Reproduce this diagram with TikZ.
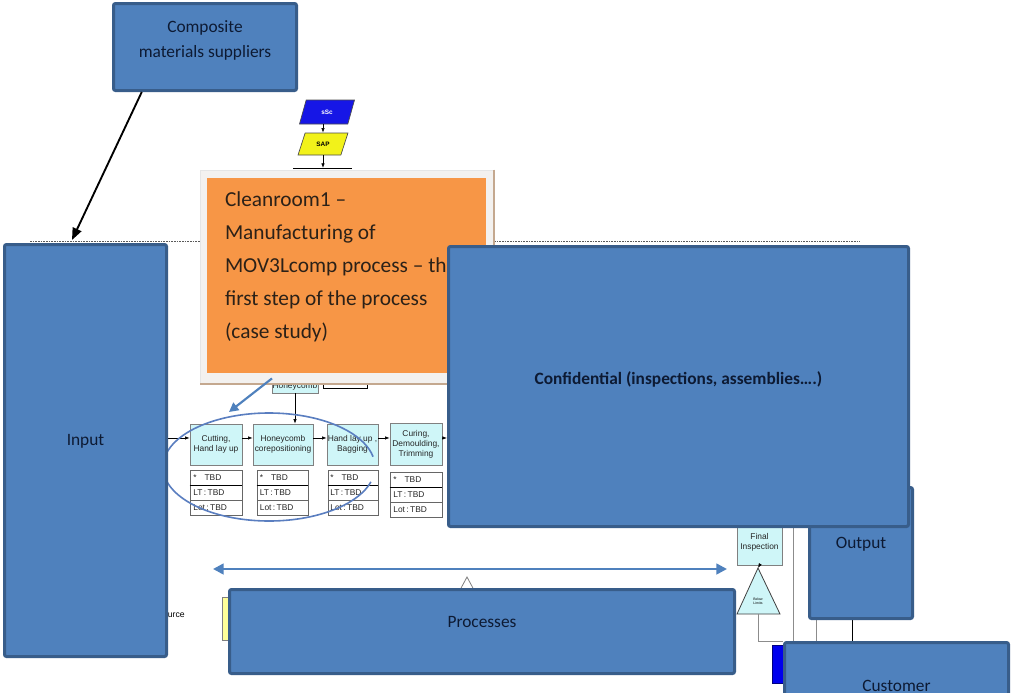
\documentclass[tikz,border=0pt]{standalone}
\usepackage{fontspec}
\setmainfont{Carlito}
\newfontfamily\arialf{Liberation Sans}
\usetikzlibrary{arrows.meta,shapes.geometric,calc}
\pgfdeclarelayer{paper}
\pgfdeclarelayer{under}
\pgfdeclarelayer{callout}
\pgfsetlayers{paper,under,callout,main}

\definecolor{boxblue}{HTML}{4F81BD}
\definecolor{boxedge}{HTML}{385D8A}
\definecolor{labelink}{HTML}{0D1A33}
\definecolor{orangefill}{HTML}{F79646}
\definecolor{orangeink}{HTML}{2B2118}
\definecolor{framefill}{HTML}{F3F1EF}
\definecolor{frameedge}{HTML}{C4A88F}
\definecolor{stepfill}{HTML}{CFF6F8}
\definecolor{stepedge}{HTML}{808080}
\definecolor{sscblue}{HTML}{1616E6}
\definecolor{sapyellow}{HTML}{F2F21A}
\definecolor{pureblue}{HTML}{0000EE}
\definecolor{ovalblue}{HTML}{5A7EC0}
\definecolor{srcyellow}{HTML}{FFFF99}

\begin{document}
\begin{tikzpicture}[x=0.75pt,y=-0.75pt,
  bluebox/.style={rectangle, rounded corners=1.5pt, fill=boxblue, draw=boxedge,
    line width=2.25pt, inner sep=0pt},
  boxlabel/.style={text=labelink, font=\fontsize{13pt}{18.75pt}\selectfont, align=center},
  stepbox/.style={rectangle, fill=stepfill, draw=stepedge, line width=0.5pt,
    inner sep=0pt, minimum height=30.75pt, align=center,
    font=\arialf\fontsize{6.3pt}{7.5pt}\selectfont, text=black!85},
  datarow/.style={rectangle, draw=black!60, line width=0.4pt, inner sep=0pt,
    minimum height=11.25pt, text width=34pt, align=left,
    font=\arialf\fontsize{6.3pt}{7pt}\selectfont, text=black!85},
  para/.style={trapezium, trapezium stretches=true, draw=black!70, line width=0.5pt,
    inner sep=0pt, font=\arialf\bfseries\fontsize{4.8pt}{5pt}\selectfont},
  flow/.style={draw=black, line width=0.5pt, -{Latex[length=3.5pt,width=2.6pt]}},
  gline/.style={draw=black!45, line width=0.75pt},
  boundary/.style={draw=black!65, line width=0.6pt, dash pattern=on 1.2pt off 0.8pt},
  bluearrow/.style={draw=boxblue, line width=1.6pt, -{Triangle[length=7pt,width=7pt]}},
  spanarrow/.style={draw=boxblue, line width=1.9pt,
    {Triangle[length=8pt,width=8pt]}-{Triangle[length=8pt,width=8pt]}},
  feed/.style={draw=black, line width=1.4pt, -{Triangle[length=9pt,width=7pt]}},
  tinytext/.style={font=\arialf\fontsize{2.6pt}{3pt}\selectfont, align=center, inner sep=0pt}
]
\begin{pgfonlayer}{paper}
  \fill[white] (0,0) rectangle (1011,693);
\end{pgfonlayer}
\useasboundingbox (0,0) rectangle (1011,693);

% ---------- top-level blocks ----------
\node[bluebox, minimum width=77.25pt, minimum height=98.25pt,
  label={[boxlabel, yshift=6.75pt]center:Output}] (out) at (861,553) {};
\node[bluebox, minimum width=345pt, minimum height=210pt,
  label={[boxlabel, font=\bfseries\fontsize{13pt}{18.75pt}\selectfont, yshift=5.6pt]center:Confidential (inspections, assemblies….)}] (conf) at (678.5,386.5) {};
\node[bluebox, minimum width=121.5pt, minimum height=309pt,
  label={[boxlabel, yshift=7.1pt]center:Input}] (inp) at (85.5,450.5) {};
\node[bluebox, minimum width=137.25pt, minimum height=65.25pt,
  label={[boxlabel, yshift=5.25pt]center:Composite\\materials suppliers}] (sup) at (205,47) {};
\node[bluebox, minimum width=378.75pt, minimum height=63pt,
  label={[boxlabel, yshift=7.1pt]center:Processes}] (proc) at (482,631.5) {};
\node[bluebox, minimum width=168pt, minimum height=63.75pt,
  label={[boxlabel, yshift=-1pt]center:Customer}] (cust) at (896.5,685) {};

% supplier feed onto the boundary line
\coordinate (dashL) at (30,241);
\coordinate (dashR) at (860,241);
\coordinate (feedEnd) at (72,240);
\draw[feed] ($(sup.south west)!0.16!(sup.south east)$) -- (feedEnd);

% span of the process chain
\coordinate (spanL) at (213,569);
\coordinate (spanR) at (727,569);
\draw[spanarrow] (spanL) -- (spanR);

% ---------- value stream underneath ----------
\begin{pgfonlayer}{under}
  \draw[boundary] (dashL) -- (dashR);

  % scheduling
  \node[para, fill=sscblue, text=white, trapezium left angle=68, trapezium right angle=112,
    minimum width=41.25pt, minimum height=18pt] (ssc) at (327,112) {sSc};
  \node[para, fill=sapyellow, text=black, trapezium left angle=60, trapezium right angle=120,
    minimum width=37.5pt, minimum height=16.5pt] (sap) at (323,144) {SAP};
  \draw[flow] (sap.north |- ssc.south) -- (sap.north);
  \coordinate (barL) at (293,168);
  \coordinate (barR) at (352,168);
  \draw[line width=0.6pt] (barL) -- (barR);
  \draw[flow] (sap.south) -- (sap.south |- barL);

  % process steps
  \node[stepbox, minimum width=39pt] (p1) at (216,444.5) {Cutting,\\Hand lay up};
  \node[stepbox, minimum width=45pt] (p2) at (283,444.5) {Honeycomb\\corepositioning};
  \node[stepbox, minimum width=38.25pt] (p3) at (352.5,444.5) {Hand lay up ,\\Bagging};
  \node[stepbox, minimum width=39pt, minimum height=31.5pt] (p4) at (416,444) {Curing,\\Demoulding,\\Trimming};

  \node[stepbox, minimum width=34.5pt, minimum height=10.5pt] (hc) at (295,386) {Honeycomb};
  \node[draw=black, line width=0.6pt, minimum width=33pt, minimum height=13.5pt, inner sep=0pt] (inv) at (345,379) {};
  \draw[flow] (hc.south) -- (hc.south |- p2.north);

  \coordinate (rowA) at ([yshift=4.9pt]p1.west);
  \draw[flow] (rowA -| inp.east) -- (rowA);
  \draw[flow] (rowA -| p1.east) -- (rowA -| p2.west);
  \draw[flow] (rowA -| p2.east) -- (rowA -| p3.west);
  \draw[flow] (rowA -| p3.east) -- (rowA -| p4.west);
  \draw[flow] (rowA -| p4.east) -- (rowA -| conf.west);

  % data boxes under each step
  \foreach \c/\x/\w/\y in {1/216/39/477.5, 2/282.5/38.25/477.5, 3/353/37.5/477.5, 4/416/39/479.5}{
    \node[datarow, minimum width=\w pt] (d\c-1) at (\x,\y) {*\hspace{6pt}TBD};
    \node[datarow, minimum width=\w pt] (d\c-2) at (\x,\y+15.5) {LT\,:\,TBD};
    \node[datarow, minimum width=\w pt] (d\c-3) at (\x,\y+30.5) {Lot\,:\,TBD};
    \draw[line width=1.1pt] (d\c-1.south west) -- (d\c-1.south east);
  }

  % lasso round the first steps
  \coordinate (ovalc) at (269,467);
  \draw[ovalblue, line width=1.2pt] ([shift={(-16:79.5pt and 40.5pt)}]ovalc)
    arc[start angle=-16, end angle=-349, x radius=79.5pt, y radius=40.5pt];

  % source at bottom left
  \node[font=\arialf\fontsize{6.5pt}{7pt}\selectfont, anchor=east, inner sep=0pt] (src) at (185,615) {Source};
  \node[draw=black!50, fill=srcyellow, line width=0.5pt, minimum width=9pt, minimum height=32.25pt, inner sep=0pt] (ybox) at (228,618.5) {};
  \draw[black!50, line width=0.6pt] (460,590) -- (467,577) -- (474,590);

  % final inspection and release
  \node[stepbox, minimum width=33.75pt, minimum height=33.75pt] (fi) at (759.5,542.5) {Final\\Inspection};
  \coordinate (apex) at (758,568);
  \coordinate (triL) at (737,614);
  \coordinate (triR) at (780,614);
  \draw[fill=stepfill, draw=black!75, line width=0.6pt] (apex) -- (triR) -- (triL) -- cycle;
  \node[tinytext] (limits) at (758,601) {Below\\Limits};
  \draw[flow] (fi.south) -- (apex);
  \coordinate (tribase) at ($(triL)!0.5!(triR)$);
  \draw[gline] (tribase) |- (cust.north west);

  \coordinate (v1) at ([xshift=7.9pt]cust.north west);
  \draw[gline] (v1) -- (v1 |- conf.south);
  \coordinate (v2) at ([xshift=6.4pt]out.south west);
  \draw[gline] (v2) -- (v2 |- cust.north);
  \coordinate (v3) at ([xshift=-6.75pt]out.south);
  \draw[black, line width=0.75pt] (v3) -- (v3 |- cust.north);

  \node[fill=pureblue, draw=blue!50!black, line width=0.4pt, minimum width=9pt, minimum height=28.5pt, inner sep=0pt] (ship) at (778,664) {};
\end{pgfonlayer}

% ---------- callout over the first step ----------
\begin{pgfonlayer}{callout}
  \node[fill=framefill, draw=black!10, line width=0.6pt, minimum width=220.5pt, minimum height=160.5pt, inner sep=0pt] (frame) at (347,277) {};
  \draw[frameedge, line width=1.4pt] (frame.north east) -- (frame.south east) -- (frame.south west);
  \node[fill=orangefill, minimum width=209.25pt, minimum height=146.25pt, inner sep=0pt] (org) at (346.5,275.5) {};
  \node[anchor=west, align=left, text=orangeink, inner sep=0pt,
    font=\fontsize{16pt}{24.75pt}\selectfont] (orgtxt) at ([xshift=13.5pt, yshift=6.75pt]org.west)
    {Cleanroom1 –\\Manufacturing of\\MOV3Lcomp process – the\\first step of the process\\(case study)};
  \coordinate (lassoTip) at (229,412);
  \draw[bluearrow] ([xshift=-56.25pt, yshift=4.5pt]frame.south) -- (lassoTip);
\end{pgfonlayer}
\end{tikzpicture}
\end{document}
